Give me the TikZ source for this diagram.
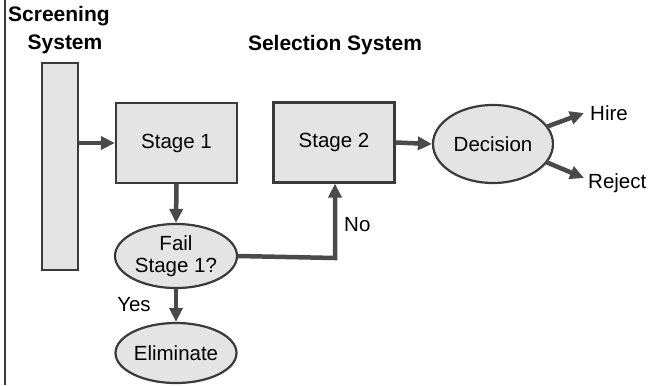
\documentclass[tikz,border=0pt]{standalone}
\usepackage{fontspec}
\setmainfont{Liberation Sans}
\usetikzlibrary{arrows.meta,shapes.geometric}
\definecolor{boxfill}{HTML}{E4E4E4}
\definecolor{edge}{HTML}{3A3A3A}
\definecolor{arrowc}{HTML}{4A4A4A}
\begin{document}
\begin{tikzpicture}[x=1pt,y=-1pt,
  box/.style={draw=edge,fill=boxfill,line width=2.2pt,minimum width=121pt,minimum height=80pt,inner sep=0pt,font=\fontsize{20.5}{22}\selectfont},
  oval/.style={ellipse,draw=edge,fill=boxfill,line width=2.2pt,inner sep=0pt,align=center,font=\fontsize{20.5}{22}\selectfont},
  lbl/.style={inner sep=0pt,font=\fontsize{20.5}{22}\selectfont},
  ttl/.style={inner sep=0pt,align=center,font=\fontsize{21}{25}\selectfont\bfseries},
  flow/.style={draw=arrowc,line width=4.5pt,-{Triangle[length=14pt,width=13pt]}}]
\useasboundingbox (0,0) rectangle (652,385);
\fill[white] (0,0) rectangle (652,385);
\draw[edge,line width=1.2pt] (5,0) -- (5,385);
\node[ttl,anchor=north west] (scrt) at (8,6) {Screening};
\node[ttl] (scrt2) at (65,44) {System};
\node[ttl] (selt) at (335,45) {Selection System};
\node[draw=edge,fill=boxfill,line width=2.2pt,minimum width=36pt,minimum height=207pt,inner sep=0pt] (bar) at (60,166.5) {};
\node[box] (s1) at (176.5,143) {Stage 1};
\node[box] (s2) at (334,142.5) {Stage 2};
\node[oval,minimum width=120pt,minimum height=78pt] (dec) at (493,144) {Decision};
\node[oval,minimum width=122pt,minimum height=64pt] (fail) at (176,256) {Fail\\Stage 1?};
\node[oval,minimum width=121pt,minimum height=60pt] (elim) at (176,353) {Eliminate};
\node[lbl,anchor=west] (hire) at (590,113) {Hire};
\node[lbl,anchor=west] (rej) at (588,183) {Reject};
\node[lbl,anchor=west] (no) at (344,225) {No};
\node[lbl] (yes) at (134,305) {Yes};
\coordinate (hs) at (546,127);
\coordinate (he) at (584,113);
\coordinate (rs) at (546,162);
\coordinate (re) at (584,178);
\coordinate (turn) at (335,258);
\draw[flow] (bar.east |- s1.west) -- (s1.west);
\draw[flow] (s2.east) -- (dec.west);
\draw[flow] (hs) -- (he);
\draw[flow] (rs) -- (re);
\draw[flow] (s1.south) -- (fail.north);
\draw[flow] (fail.south) -- (elim.north);
\draw[flow] (fail.east) -- (turn) -- (s2.south -| turn);
\end{tikzpicture}
\end{document}
